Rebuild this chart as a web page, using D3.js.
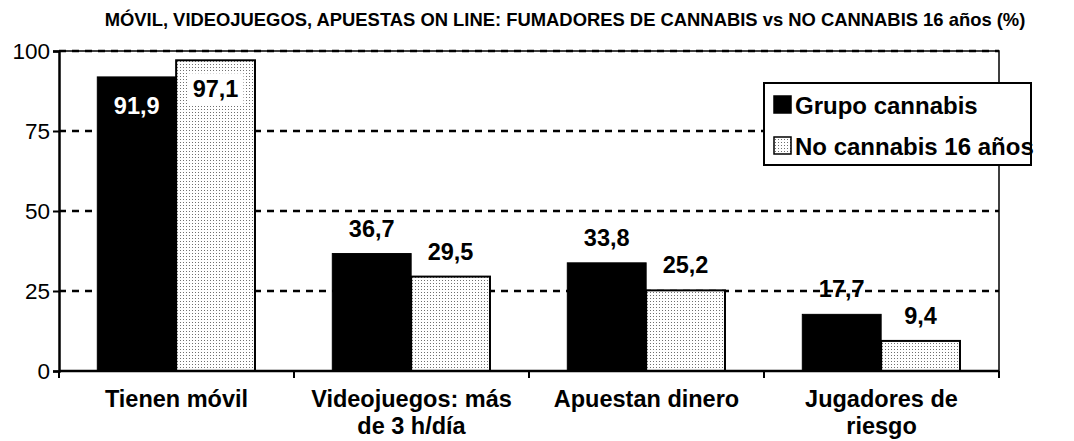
<!DOCTYPE html>
<html>
<head>
<meta charset="utf-8">
<script src="https://cdn.jsdelivr.net/npm/d3@7"></script>
<style>
  html, body { margin: 0; padding: 0; background: #fff; }
  svg { display: block; font-family: "Liberation Sans", Arial, Helvetica, sans-serif; }
</style>
</head>
<body>
<svg id="chart" width="1074" height="441"></svg>
<script>
// Chart data
const title = "MÓVIL, VIDEOJUEGOS, APUESTAS ON LINE: FUMADORES DE CANNABIS vs NO CANNABIS 16 años (%)";
const categories = ["Tienen móvil", "Videojuegos: más\nde 3 h/día", "Apuestan dinero", "Jugadores de\nriesgo"];
const seriesNames = ["Grupo cannabis", "No cannabis 16 años"];
const grupoCannabis = [91.9, 36.7, 33.8, 17.7];
const noCannabis = [97.1, 29.5, 25.2, 9.4];
const yTicks = [0, 25, 50, 75, 100];

const rows = categories.map((c, i) => ({ cat: c, values: [grupoCannabis[i], noCannabis[i]] }));

const svg = d3.select("#chart");
const plot = { left: 59, right: 999, top: 51, bottom: 371 };

// Dotted fill for the second series
const defs = svg.append("defs");
const pat = defs.append("pattern")
  .attr("id", "dots").attr("patternUnits", "userSpaceOnUse")
  .attr("width", 3).attr("height", 3);
pat.append("rect").attr("width", 3).attr("height", 3).attr("fill", "#fff");
pat.append("rect").attr("x", 1).attr("y", 1).attr("width", 1).attr("height", 1).attr("fill", "#707070");

const x0 = d3.scaleBand().domain(categories).range([plot.left, plot.right]).paddingInner(0).paddingOuter(0);
const bw = x0.bandwidth();
const x1 = d3.scaleBand().domain(seriesNames).range([bw * 0.163, bw * 0.834]);
const y = d3.scaleLinear().domain([0, 100]).range([plot.bottom, plot.top]);

// Title
svg.append("text")
  .attr("x", 565).attr("y", 26)
  .attr("text-anchor", "middle")
  .attr("font-size", 18.4).attr("font-weight", "bold")
  .text(title);

// Plot frame: top and right edges
svg.append("path")
  .attr("d", `M${plot.left},${plot.top}H${plot.right}V${plot.bottom}`)
  .attr("fill", "none").attr("stroke", "#000").attr("stroke-width", 1.5);

// Dashed gridlines
svg.append("g").selectAll("line")
  .data(yTicks.filter(t => t > 0))
  .join("line")
  .attr("x1", plot.left).attr("x2", plot.right)
  .attr("y1", d => y(d)).attr("y2", d => y(d))
  .attr("stroke", "#000").attr("stroke-width", 2.5)
  .attr("stroke-dasharray", "7,6");

// Bars
const fills = ["#000", "url(#dots)"];
const groups = svg.append("g").selectAll("g")
  .data(rows).join("g")
  .attr("transform", d => `translate(${x0(d.cat)},0)`);

groups.selectAll("rect")
  .data(d => d.values.map((v, k) => ({ v, k })))
  .join("rect")
  .attr("x", d => x1(seriesNames[d.k]))
  .attr("width", x1.bandwidth())
  .attr("y", d => y(d.v))
  .attr("height", d => y(0) - y(d.v))
  .attr("fill", d => fills[d.k])
  .attr("stroke", "#000").attr("stroke-width", d => d.k === 1 ? 2 : 1);

// Value labels
const fmt = v => d3.format(".1f")(v).replace(".", ",");
groups.each(function (d) {
  const g = d3.select(this);
  d.values.forEach((v, k) => {
    const cx = x1(seriesNames[k]) + x1.bandwidth() / 2;
    const inside = v > 85;
    const by = inside ? y(v) + 37 : y(v) - 17;
    const t = g.append("text")
      .attr("x", cx).attr("y", by)
      .attr("text-anchor", "middle")
      .attr("font-size", 23.5).attr("font-weight", "bold")
      .attr("fill", inside && k === 0 ? "#fff" : "#000")
      .text(fmt(v));
    if (inside && k === 1) {
      const bb = t.node().getBBox();
      g.insert("rect", () => t.node())
        .attr("x", bb.x - 5).attr("y", bb.y - 3)
        .attr("width", bb.width + 10).attr("height", bb.height + 6)
        .attr("fill", "#fff");
    }
  });
});

// Y axis
const yAxis = svg.append("g")
  .attr("transform", `translate(${plot.left},0)`)
  .call(d3.axisLeft(y).tickValues(yTicks).tickSize(6).tickPadding(3).tickFormat(d3.format("d")));
yAxis.select(".domain").attr("stroke-width", 2.5);
yAxis.selectAll(".tick line").attr("stroke-width", 2);
yAxis.selectAll("text").attr("font-size", 22.5).attr("fill", "#000")
  .attr("font-family", "'Liberation Sans', Arial, sans-serif");

// X axis: baseline with ticks between categories
const xAxis = svg.append("g");
xAxis.append("line")
  .attr("x1", plot.left).attr("x2", plot.right)
  .attr("y1", y(0)).attr("y2", y(0))
  .attr("stroke", "#000").attr("stroke-width", 2.5);
const bounds = categories.map(c => x0(c)).concat([plot.right]);
xAxis.selectAll("line.tk")
  .data(bounds).join("line").attr("class", "tk")
  .attr("x1", d => d).attr("x2", d => d)
  .attr("y1", y(0)).attr("y2", y(0) + 7)
  .attr("stroke", "#000").attr("stroke-width", 2);

// Category labels
categories.forEach(c => {
  const lines = c.split("\n");
  const t = svg.append("text")
    .attr("x", x0(c) + bw / 2).attr("y", 407)
    .attr("text-anchor", "middle")
    .attr("font-size", 23.5).attr("font-weight", "bold");
  lines.forEach((ln, i) => {
    t.append("tspan").attr("x", x0(c) + bw / 2).attr("dy", i === 0 ? 0 : 27).text(ln);
  });
});

// Legend
const lg = svg.append("g");
lg.append("rect")
  .attr("x", 764).attr("y", 83).attr("width", 267).attr("height", 82)
  .attr("fill", "#fff").attr("stroke", "#000").attr("stroke-width", 2);
seriesNames.forEach((s, i) => {
  const yy = 96 + i * 41;
  lg.append("rect")
    .attr("x", 774).attr("y", yy).attr("width", 17).attr("height", 17)
    .attr("fill", fills[i]).attr("stroke", "#000").attr("stroke-width", 1.5);
  lg.append("text")
    .attr("x", 795).attr("y", yy + 18)
    .attr("font-size", 24).attr("font-weight", "bold")
    .text(s);
});
</script>
</body>
</html>
